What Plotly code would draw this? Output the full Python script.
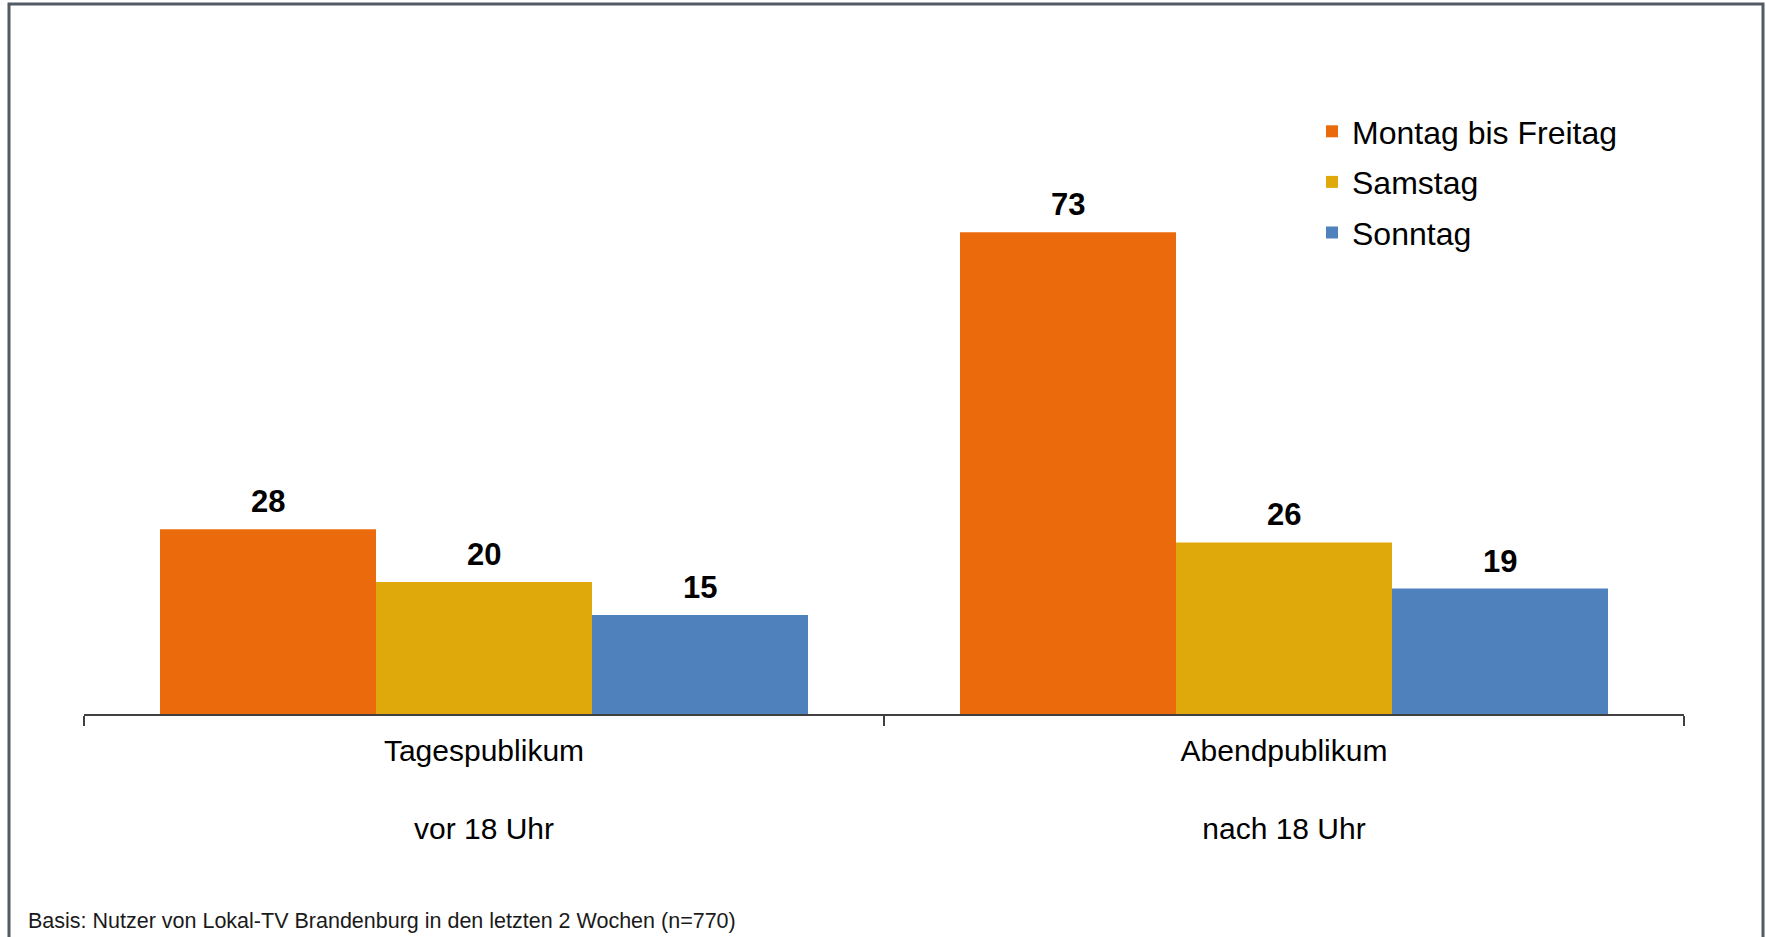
import plotly.graph_objects as go

categories = ["Tagespublikum<br><br>vor 18 Uhr", "Abendpublikum<br><br>nach 18 Uhr"]
series_names = ["Montag bis Freitag", "Samstag", "Sonntag"]
values_mo_fr = [28, 73]
values_sa = [20, 26]
values_so = [15, 19]
colors = ["#EB6B0C", "#E0A90B", "#4F81BD"]
footnote = "Basis: Nutzer von Lokal-TV Brandenburg in den letzten 2 Wochen (n=770)"

W, H = 1766, 937
ML, MR, MT, MB = 84, 82, 186, 223
plot_w = W - ML - MR
plot_h = H - MT - MB
FONT = "Arial, 'Liberation Sans', sans-serif"

fig = go.Figure()
all_values = [values_mo_fr, values_sa, values_so]
for i, (name, vals) in enumerate(zip(series_names, all_values)):
    fig.add_trace(go.Bar(
        x=categories, y=vals, name=name,
        marker=dict(color=colors[i], line=dict(width=0)),
        legendgroup=name,
    ))

bargap = 0.19
bar_px = plot_w / len(categories) * (1 - bargap) / 3
annotations = []
for i, vals in enumerate(all_values):
    for cat, v in zip(categories, vals):
        annotations.append(dict(
            x=cat, y=v, xref="x", yref="y", text="<b>%d</b>" % v,
            showarrow=False, xshift=(i - 1) * bar_px, yshift=8,
            yanchor="bottom", font=dict(size=31, color="#000000", family=FONT),
        ))

annotations.append(dict(
    x=(26 - ML) / plot_w, y=(H - MB - 921) / plot_h, xref="paper", yref="paper",
    xanchor="left", yanchor="middle", text=footnote, showarrow=False,
    font=dict(size=21.5, color="#1a1a1a", family=FONT),
))

fig.update_layout(
    width=W, height=H,
    margin=dict(l=ML, r=MR, t=MT, b=MB),
    paper_bgcolor="white", plot_bgcolor="white",
    barmode="group", bargap=bargap, bargroupgap=0,
    font=dict(family=FONT, color="#000000"),
    showlegend=True,
    legend=dict(
        x=(1312 - ML) / plot_w, y=(H - MB - 104) / plot_h,
        xanchor="left", yanchor="top",
        font=dict(size=32, color="#000000", family=FONT),
        itemwidth=30, tracegroupgap=6, bgcolor="rgba(0,0,0,0)",
    ),
    xaxis=dict(
        showline=True, linecolor="#404040", linewidth=2,
        ticks="outside", tickson="boundaries", ticklen=10, tickwidth=2,
        tickcolor="#404040", tickfont=dict(size=30, color="#000000", family=FONT),
        ticklabelstandoff=9,
        showgrid=False, zeroline=False,
    ),
    yaxis=dict(
        range=[0, 80], visible=False, showgrid=False, zeroline=False,
    ),
    annotations=annotations,
    shapes=[dict(
        type="rect", xref="paper", yref="paper",
        x0=(9 - ML) / plot_w, x1=(1763 - ML) / plot_w,
        y0=(H - MB - 1000) / plot_h, y1=(H - MB - 4) / plot_h,
        line=dict(color="#525B64", width=3), fillcolor="rgba(0,0,0,0)", layer="below",
    )],
)

fig.write_html("out.html", config={"displayModeBar": False},
               post_script="document.body.style.margin='0';document.body.style.overflow='hidden';")
